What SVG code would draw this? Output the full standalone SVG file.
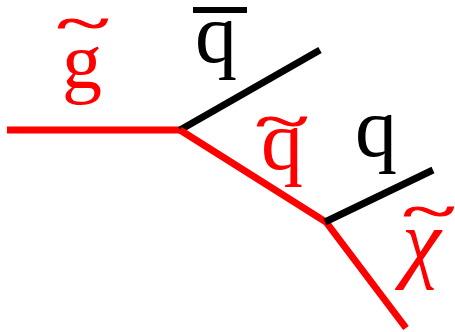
<svg xmlns="http://www.w3.org/2000/svg" width="455" height="332" viewBox="0 0 455 332">
<style>
.r{stroke:#ff0000;stroke-width:7;fill:none}
.b{stroke:#000000;stroke-width:7;fill:none}
.tl{stroke:#ff0000;stroke-width:2}
</style>
<rect width="455" height="332" fill="#ffffff"/>
<g id="connectors">
<line class="r" x1="7" y1="130" x2="181" y2="130"/>
<line class="b" x1="180" y1="130" x2="320" y2="50"/>
<polyline class="r" points="180,130 326,222 406,328"/>
<line class="b" x1="325" y1="222" x2="433" y2="170"/>
</g>
<g id="gluino" font-family="Liberation Serif, Times New Roman, serif" fill="#ff0000">
<text x="62" y="88" font-size="80">g</text>
<text class="tl" transform="translate(83,42) scale(1,0.55)" font-size="100" text-anchor="middle">~</text>
</g>
<g id="antiquark" font-family="Liberation Serif, Times New Roman, serif" fill="#000000">
<text x="195" y="62" font-size="84">q</text>
<rect x="193" y="7" width="54" height="6"/>
</g>
<g id="squark" font-family="Liberation Serif, Times New Roman, serif" fill="#ff0000">
<text x="261" y="169" font-size="84">q</text>
<text class="tl" transform="translate(282,140) scale(1,0.55)" font-size="100" text-anchor="middle">~</text>
</g>
<g id="quark" font-family="Liberation Serif, Times New Roman, serif" fill="#000000">
<text x="355" y="156" font-size="84">q</text>
</g>
<g id="neutralino" font-family="Liberation Serif, Times New Roman, serif" fill="#ff0000">
<text x="402" y="271" font-size="88" font-style="italic">χ</text>
<text class="tl" transform="translate(429,230) scale(1,0.55)" font-size="100" text-anchor="middle">~</text>
</g>
</svg>
